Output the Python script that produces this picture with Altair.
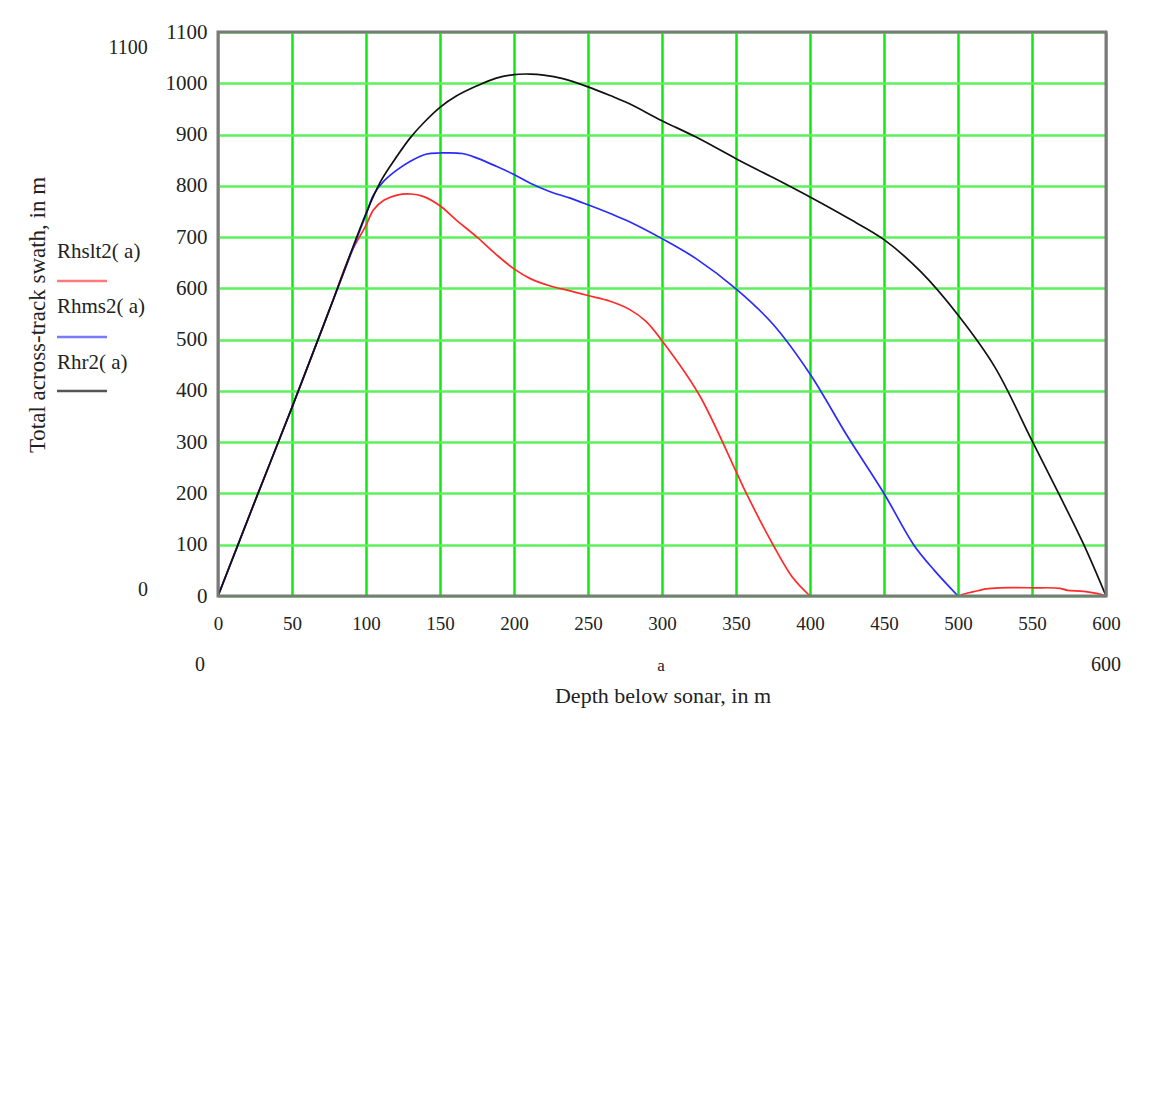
import altair as alt
import pandas as pd

# ---- data ----
rhr2_depth = [0, 25, 50, 75, 100, 110, 121, 130, 139, 150, 161, 175, 188, 200, 211, 220, 233, 250,
              265, 278, 300, 323, 350, 375, 400, 425, 450, 475, 500, 525, 550, 568, 585, 600]
rhr2_swath = [0, 185, 368, 556, 746, 809, 858, 894, 923, 953, 975, 995, 1010, 1017, 1018, 1016, 1009, 993,
              976, 960, 927, 895, 853, 816, 778, 738, 695, 632, 548, 446, 303, 200, 100, 0]

rhms2_depth = [0, 25, 50, 75, 100, 105, 112, 121, 130, 141, 150, 165, 175, 188, 200, 211, 224, 238, 250,
               265, 278, 300, 323, 350, 375, 400, 425, 450, 470, 484, 500]
rhms2_swath = [0, 185, 368, 556, 744, 782, 809, 831, 848, 862, 864, 863, 854, 838, 822, 805, 789, 776, 763,
               746, 730, 697, 658, 599, 530, 433, 313, 200, 100, 50, 0]

rhslt2_depth_a = [0, 25, 50, 75, 90, 100, 105, 112, 121, 130, 139, 150, 161, 175, 188, 200, 211, 224, 238,
                  250, 265, 278, 289, 300, 325, 350, 357, 375, 388, 400]
rhslt2_swath_a = [0, 185, 368, 556, 670, 723, 753, 772, 782, 784, 779, 761, 733, 700, 666, 638, 619, 605, 595,
                  586, 575, 559, 536, 498, 393, 243, 200, 100, 37, 0]
rhslt2_depth_b = [500, 503, 510, 519, 528, 551, 569, 574, 585, 597, 600]
rhslt2_swath_b = [0, 3, 8, 14, 16, 16, 15, 11, 9, 3, 0]

series_names = ["Rhslt2(a)", "Rhms2(a)", "Rhr2(a)"]
series_colors = ["#ff2a2a", "#2a2aff", "#111111"]

x_ticks = list(range(0, 601, 50))
y_ticks = list(range(0, 1101, 100))

rows = []
for d, s in zip(rhslt2_depth_a, rhslt2_swath_a):
    rows.append({"depth": d, "swath": s, "series": "Rhslt2(a)", "seg": "red_a", "order": 0})
for d, s in zip(rhslt2_depth_b, rhslt2_swath_b):
    rows.append({"depth": d, "swath": s, "series": "Rhslt2(a)", "seg": "red_b", "order": 0})
for d, s in zip(rhms2_depth, rhms2_swath):
    rows.append({"depth": d, "swath": s, "series": "Rhms2(a)", "seg": "blue", "order": 1})
for d, s in zip(rhr2_depth, rhr2_swath):
    rows.append({"depth": d, "swath": s, "series": "Rhr2(a)", "seg": "black", "order": 2})
df = pd.DataFrame(rows)

FONT = "Liberation Serif"
TXT = "#222222"

lines = alt.Chart(df).mark_line(strokeWidth=1.7, interpolate="catmull-rom").encode(
    x=alt.X("depth:Q",
            scale=alt.Scale(domain=[0, 600], nice=False, zero=False),
            axis=alt.Axis(values=x_ticks, title=None, grid=True, gridColor="#10e810", gridWidth=2.5,
                          ticks=False, domain=False, labelFont=FONT, labelFontSize=19, format="d",
                          labelColor=TXT, labelPadding=18, labelFlush=False)),
    y=alt.Y("swath:Q",
            scale=alt.Scale(domain=[0, 1100], nice=False),
            axis=alt.Axis(values=y_ticks, title=None, grid=True, gridColor="#5cf05c", gridWidth=2.5,
                          ticks=False, domain=False, labelFont=FONT, labelFontSize=21, format="d",
                          labelColor=TXT, labelPadding=11, labelFlush=False)),
    color=alt.Color("series:N", scale=alt.Scale(domain=series_names, range=series_colors), legend=None),
    detail="seg:N",
    order="order:Q",
)


def single(chart):
    return chart.transform_filter(alt.datum.seg == "black").transform_aggregate(n="count()")


def txt(s, x, y, size=18, angle=0, align="center"):
    return single(alt.Chart(df).mark_text(text=s, font=FONT, fontSize=size, color=TXT, angle=angle,
                                          align=align, baseline="middle").encode(
        x=alt.value(x), y=alt.value(y)))


def leg_rule(y, color):
    return single(alt.Chart(df).mark_rule(strokeWidth=2.5, color=color).encode(
        x=alt.value(-161), x2=alt.value(-111), y=alt.value(y)))


frame = single(alt.Chart(df).mark_rect(fill=None, fillOpacity=0, stroke="#7a7a7a", strokeWidth=3).encode(
    x=alt.value(0), x2=alt.value(888), y=alt.value(0), y2=alt.value(564)))

layers = [
    lines,
    frame,
    txt("Rhslt2( a)", -161, 220, 21, align="left"),
    leg_rule(249, "#ff7a7a"),
    txt("Rhms2( a)", -161, 275, 21, align="left"),
    leg_rule(305, "#7a7aff"),
    txt("Rhr2( a)", -161, 331, 21, align="left"),
    leg_rule(359, "#555555"),
    txt("Total across-track swath, in m", -180, 283, 23, angle=270),
    txt("1100", -90, 16, 20),
    txt("0", -75, 558, 20),
    txt("0", -18, 633, 20),
    txt("a", 443, 634, 17),
    txt("600", 888, 633, 20),
    txt("Depth below sonar, in m", 445, 664, 22),
]

chart = alt.layer(*layers).properties(
    width=888, height=564,
    padding={"left": 210, "top": 24, "right": 45, "bottom": 400},
    autosize="none",
    background="white",
).configure_view(stroke=None)

chart.save("out.html", embed_options={"renderer": "svg", "actions": False})
